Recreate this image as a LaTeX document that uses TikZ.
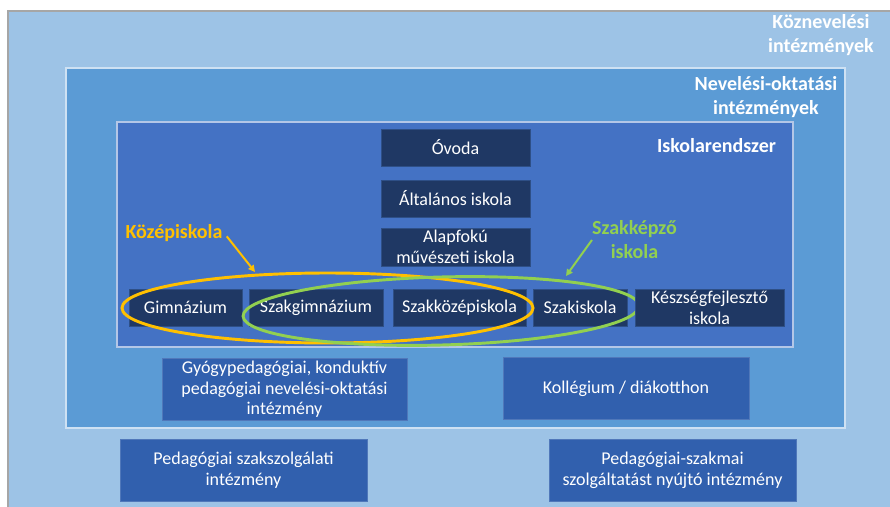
\documentclass[tikz,border=0pt]{standalone}
\usepackage{fontspec}
\setmainfont{Carlito}
\usetikzlibrary{shapes.geometric,arrows.meta}
\definecolor{outerblue}{HTML}{9DC3E6}
\definecolor{midblue}{HTML}{5B9BD5}
\definecolor{innerblue}{HTML}{4472C4}
\definecolor{navy}{HTML}{1F3864}
\definecolor{navyedge}{HTML}{2E4F86}
\definecolor{botblue}{HTML}{3160AE}
\definecolor{yell}{HTML}{FFC000}
\definecolor{gree}{HTML}{92D050}
\definecolor{grayedge}{HTML}{A6A6A6}
\begin{document}
\begin{tikzpicture}[x=0.75pt,y=-0.75pt,
  dbox/.style={fill=navy,draw=navyedge,line width=0.6pt,text=white,
    font=\fontsize{13.5}{15.5}\selectfont,align=center,inner sep=0pt,minimum height=27.75pt},
  bbox/.style={fill=botblue,draw=botblue!85!white,line width=0.6pt,text=white,
    font=\fontsize{13.5}{15.5}\selectfont,align=center,inner sep=0pt,minimum height=46pt},
  ttl/.style={text=white,font=\fontsize{15}{18}\selectfont\bfseries,align=center,inner sep=0pt},
  ring/.style={ellipse,line width=2.2pt,inner sep=0pt},
  callout/.style={font=\fontsize{15}{18}\selectfont\bfseries,align=center,inner sep=0pt},
  arr/.style={line width=1.5pt,-{Triangle[length=5pt,width=5pt]}}
]
\useasboundingbox (0,0) rectangle (890,507);
\clip (0,0) rectangle (890,507);
\fill[white] (0,0) rectangle (890,507);
% outer frame
\fill[outerblue] (8,11) rectangle (896,512);
\draw[grayedge,line width=0.8pt] (8,512) -- (8,11) -- (896,11);
% middle frame
\fill[midblue] (66,68) rectangle (845,428);
\draw[white!70!midblue,line width=1.2pt] (66,68) rectangle (845,428);
% inner frame
\fill[innerblue] (117,122) rectangle (793,347);
\draw[white!60!innerblue,line width=1.2pt] (117,122) rectangle (793,347);

\node[ttl] (kozn) at (821,35) {Köznevelési\\intézmények};
\node[ttl] (nevok) at (766,97) {Nevelési-oktatási\\intézmények};
\node[ttl] (iskr) at (716.5,146) {Iskolarendszer};

\node[dbox,minimum width=111.75pt] (ovoda) at (455.5,147.5) {Óvoda};
\node[dbox,minimum width=111.75pt] (alt) at (455.5,198.5) {Általános iskola};
\node[dbox,minimum width=111.75pt,minimum height=28.5pt] (alap) at (455.5,247) {Alapfokú\\művészeti iskola};

\node[dbox,minimum width=84.75pt] (gimn) at (185.5,307.5) {Gimnázium};
\node[dbox,minimum width=100.5pt] (szakg) at (316,307.5) {Szakgimnázium};
\node[dbox,minimum width=99.75pt] (szakk) at (459.5,307.5) {Szakközépiskola};
\node[dbox,minimum width=70.5pt] (szaki) at (580,307.5) {Szakiskola};

\node[ring,draw=yell,minimum width=308.25pt,minimum height=52.5pt] (kozring) at (327.5,308) {};
\node[ring,draw=gree,minimum width=297pt,minimum height=51pt,rotate=1.5] (szring) at (441,311) {};

\node[dbox,minimum width=111.75pt] (kesz) at (709.5,307.5) {Készségfejlesztő\\iskola};

\node[callout,text=yell] (kozlab) at (174,233) {Középiskola};
\coordinate (koztip) at (255,272);
\draw[arr,yell] ([xshift=3pt,yshift=-2.5pt]kozlab.east) -- (koztip);

\node[callout,text=gree] (szlab) at (634.5,240) {Szakképző\\iskola};
\coordinate (sztip) at (566,276);
\draw[arr,gree] (szlab.west) -- (sztip);

\node[bbox,minimum width=183.75pt] (gyogy) at (284.5,389.5) {Gyógypedagógiai, konduktív\\pedagógiai nevelési-oktatási\\intézmény};
\node[bbox,minimum width=184.5pt] (koll) at (626,388.5) {Kollégium / diákotthon};
\node[bbox,minimum width=185.25pt,minimum height=46.5pt] (pszak) at (243.5,470) {Pedagógiai szakszolgálati\\intézmény};
\node[bbox,minimum width=185.25pt,minimum height=46.5pt] (pszm) at (672.5,470) {Pedagógiai-szakmai\\szolgáltatást nyújtó intézmény};
\end{tikzpicture}
\end{document}
